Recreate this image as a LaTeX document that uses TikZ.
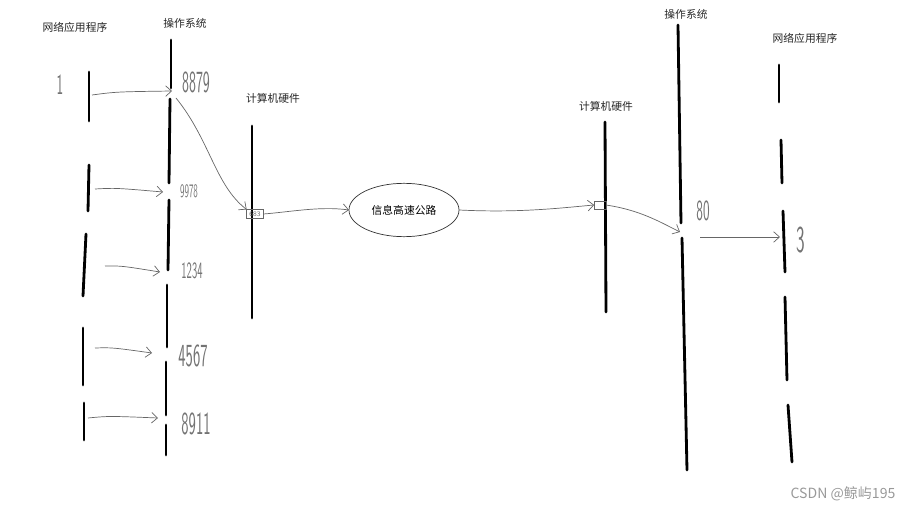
\documentclass[tikz,border=0pt]{standalone}
\usepackage{fontspec}
\newfontfamily\cjk{Noto Sans CJK SC}
\usetikzlibrary{positioning, arrows.meta, shapes.geometric, calc}

\begin{document}
\begin{tikzpicture}[x=0.03cm,y=-0.03cm,
        every node/.style={inner sep=0pt,outer sep=0pt},
        seg/.style={line width=2.4pt,line cap=round},
        pen/.style={draw=black!60,line width=0.6pt,-{Straight Barb[length=5pt,width=9pt]}},
        hand/.style={text=black!55,font=\sffamily\fontsize{#1}{#1}\selectfont,xscale=0.6,yscale=1.25},
        hand/.default=20,
        title/.style={font=\cjk\fontsize{9.2}{11}\selectfont,text=black!85}]
        \useasboundingbox (0,0) rectangle (913,510);
        % 标题
        \node[title] (app-l) at (75,27) {网络应用程序};
        \node[title] (os-l) at (185,23) {操作系统};
        \node[title] (hw-l) at (273,98) {计算机硬件};
        \node[title] (hw-r) at (606,106) {计算机硬件};
        \node[title] (os-r) at (686,14) {操作系统};
        \node[title] (app-r) at (805,38) {网络应用程序};
        % 左侧:应用程序、操作系统、硬件
        \foreach \xa/\ya/\xb/\yb in {89/72/89/121, 89/165/88/211, 86/234/83/296, 83/328/83/385, 84/403/84/440} {
            \draw[seg] (\xa,\ya) -- (\xb,\yb);
        }
        \foreach \xa/\ya/\xb/\yb in {171/40/171/88, 170/99/169/183, 169/200/168/270, 167/285/167/347, 166/362/166/415, 166/425/166/455} {
            \draw[seg] (\xa,\ya) -- (\xb,\yb);
        }
        \draw[seg] (252,126) -- (252,318);
        % 右侧:硬件、操作系统、应用程序
        \draw[seg] (605,122) -- (606,312);
        \draw[seg] (678,25) -- (681,223);
        \draw[seg] (682,238) -- (687,470);
        \foreach \xa/\ya/\xb/\yb in {779/65/779/102, 781/140/782/183, 783/211/785/272, 785/297/787/380, 788/405/792/462} {
            \draw[seg] (\xa,\ya) -- (\xb,\yb);
        }
        % 端口号
        \node[hand] (n1) at (60,85) {1};
        \node[hand=21] (p1) at (196,82) {8879};
        \node[hand=13] (p2) at (189,191) {9978};
        \node[hand=16] (p3) at (192,271) {1234};
        \node[hand=22] (p4) at (193,356) {4567};
        \node[hand=22] (p5) at (196,424) {8911};
        \node[hand] (p6) at (703,211) {80};
        \node[hand=26] (p7) at (801,240) {3};
        % 箭头端点
        \foreach \i/\xa/\ya/\xb/\yb in {1/92/95/172/91, 2/95/189/163/192, 3/105/266/160/272, 4/95/348/152/353, 5/88/418/158/418} {
            \coordinate (s-\i) at (\xa,\ya);
            \coordinate (t-\i) at (\xb,\yb);
            \draw[pen] (s-\i) .. controls ($(s-\i)!0.3!(t-\i)+(0,-2)$) .. (t-\i);
        }
        \coordinate (os-out) at (176,98);
        \node[draw=black!60,line width=0.5pt,minimum width=0.5cm,minimum height=0.27cm,font=\sffamily\fontsize{6}{6}\selectfont,text=black!60] (box-l) at (255,214) {683};
        \node[ellipse,draw=black!80,line width=0.6pt,minimum width=3.3cm,minimum height=1.6cm,font=\cjk\fontsize{9.2}{11}\selectfont] (road) at (404,210) {信息高速公路};
        \node[draw=black!60,line width=0.5pt,minimum width=0.35cm,minimum height=0.25cm] (box-r) at (600,205) {};
        \coordinate (os-in) at (680,232);
        \coordinate (os-r-out) at (700,237);
        \coordinate (app-in) at (780,237);
        \draw[pen] (os-out) .. controls (210,140) and (215,185) .. (box-l.north west);
        \draw[pen] (box-l.east) .. controls (290,212) and (320,206) .. (road.west);
        \draw[pen] (road.east) .. controls (520,213) and (560,208) .. (box-r.west);
        \draw[pen] (box-r.east) .. controls (640,210) and (660,222) .. (os-in);
        \draw[pen] (os-r-out) -- (app-in);
        % 水印
        \node[font=\cjk\fontsize{12}{14}\selectfont,text=black!40] (mark) at (843,494) {CSDN @鲸屿195};
    \end{tikzpicture}
\end{document}
